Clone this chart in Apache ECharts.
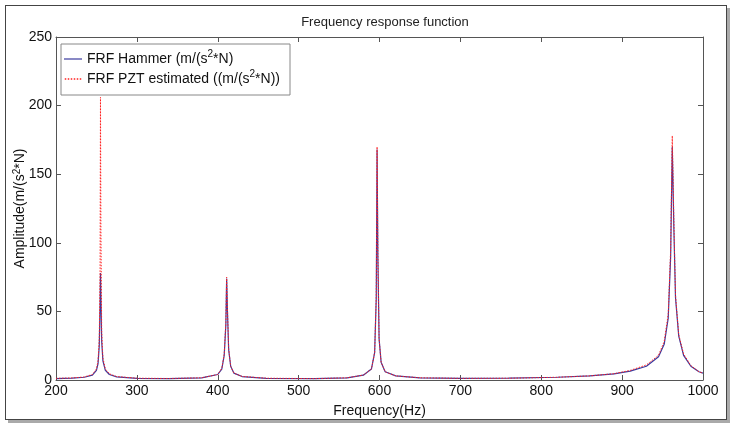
<!DOCTYPE html>
<html><head><meta charset="utf-8">
<script src="https://cdn.jsdelivr.net/npm/echarts@6/dist/echarts.min.js"></script>
<style>
html,body{margin:0;padding:0;background:#fff;}
#frame{position:absolute;left:5px;top:5px;width:720px;height:413px;border:1px solid #444;box-shadow:3px 3px 0 #aaa;background:#fff;}
#chart{position:absolute;left:0;top:0;width:733px;height:433px;}
</style></head>
<body>
<div id="frame"></div>
<div id="chart"></div>
<script>
// Frequency (Hz)
var freq = [200,220,235,245,250,252,253.5,254.5,255,255.5,256.5,258,261,266,275,300,340,380,400,405,408,410,411,412,413.5,416,420,430,460,520,560,580,590,594,596,597,598,599.5,602,607,620,650,700,760,820,860,890,910,930,945,952,957,960,962,964,966,970,976,985,995,1000];
// FRF Hammer amplitude
var hammer = [1.0,1.3,2.0,3.5,7,12,25,55,78,60,28,14,7,4,2.3,1.2,1.0,1.5,4,8,18,40,74,50,22,10,5,2.5,1.2,1.0,1.5,3.5,8,20,60,168,90,30,13,6,3,1.6,1.2,1.3,2,3,4.5,6.5,10,17,26,45,90,170,110,60,32,18,10,6,5];
// FRF PZT estimated amplitude
var pzt = [1.2,1.5,2.2,4,8,14,30,80,206,110,35,16,8,4.5,2.5,1.3,1.1,1.6,4,8.5,19,42,75,52,23,10,5,2.6,1.3,1.0,1.6,3.6,8,20,62,170,92,30,13,6,3,1.6,1.2,1.3,2,3,4.6,7,11,18,28,48,95,178,115,62,33,19,10.5,6,5];
var xTicks = [200,1000,100];
var yTicks = [0,250,50];
var names = ['FRF Hammer (m/(s²*N)','FRF PZT estimated ((m/(s²*N))'];

function pairs(xs, ys){ return xs.map(function(x,i){ return [x, ys[i]]; }); }
function sup(s){ return s.split('²').map(function(p){ return '{n|'+p+'}'; }).join('{s|2}'); }

var chart = echarts.init(document.getElementById('chart'), null, {renderer:'canvas'});
var font = 'Liberation Sans, Arial, sans-serif';
var rich14 = {n:{fontFamily:font,fontSize:14,color:'#111'},s:{fontFamily:font,fontSize:10,color:'#111',verticalAlign:'top',padding:[0,0,7,0]}};
var axisCommon = {
  axisLine:{show:true,onZero:false,lineStyle:{color:'#555',width:1}},
  axisTick:{show:true,inside:true,length:5,lineStyle:{color:'#555'}},
  splitLine:{show:false}
};
var solidIcon = 'path://M0,0L18,0L18,1.2L0,1.2Z';
var dotIcon = 'path://M0,0L1.5,0L1.5,1.5L0,1.5ZM3,0L4.5,0L4.5,1.5L3,1.5ZM6,0L7.5,0L7.5,1.5L6,1.5ZM9,0L10.5,0L10.5,1.5L9,1.5ZM12,0L13.5,0L13.5,1.5L12,1.5ZM15,0L16.5,0L16.5,1.5L15,1.5Z';
chart.setOption({
  animation:false,
  backgroundColor:'transparent',
  title:{text:'Frequency response function',left:380,top:11,textAlign:'center',
    textStyle:{fontFamily:font,fontSize:13,fontWeight:'normal',color:'#222'}},
  legend:{orient:'vertical',left:61,top:44,padding:[5,10,6,3],itemGap:0,
    borderColor:'#888',borderWidth:1,backgroundColor:'#fff',itemWidth:18,itemHeight:1.5,
    formatter:function(n){ return sup(n); },
    textStyle:{fontFamily:font,fontSize:14,color:'#111',lineHeight:20,rich:rich14},
    data:[{name:names[0],icon:solidIcon},{name:names[1],icon:dotIcon,itemStyle:{color:'#ff2020'}}]},
  grid:{left:56,right:30,top:37,bottom:53,outerBoundsMode:'none',containLabel:false},
  xAxis:[
    Object.assign({type:'value',min:xTicks[0],max:xTicks[1],interval:xTicks[2],position:'bottom',
      name:'Frequency(Hz)',nameLocation:'middle',nameGap:24,nameMoveOverlap:false,
      nameTextStyle:{fontFamily:font,fontSize:14,color:'#111'},
      axisLabel:{fontFamily:font,fontSize:14,color:'#111',margin:4,formatter:function(v){return String(v);}}},axisCommon),
    Object.assign({type:'value',min:xTicks[0],max:xTicks[1],interval:xTicks[2],position:'top',
      axisLabel:{show:false}},axisCommon)
  ],
  yAxis:[
    Object.assign({type:'value',min:yTicks[0],max:yTicks[1],interval:yTicks[2],position:'left',
      name:sup('Amplitude(m/(s²*N)'),nameLocation:'middle',nameGap:27,nameMoveOverlap:false,
      nameTextStyle:{fontFamily:font,fontSize:14,color:'#111',rich:rich14},
      axisLabel:{fontFamily:font,fontSize:14,color:'#111',margin:4,formatter:function(v){return String(v);}}},axisCommon),
    Object.assign({type:'value',min:yTicks[0],max:yTicks[1],interval:yTicks[2],position:'right',
      axisLabel:{show:false}},axisCommon)
  ],
  series:[
    {name:names[0],type:'line',data:pairs(freq,hammer),showSymbol:false,symbol:'none',
      lineStyle:{color:'#3a3a9e',width:1.2},itemStyle:{color:'#3a3a9e'}},
    {name:names[1],type:'line',data:pairs(freq,pzt),showSymbol:false,symbol:'none',
      lineStyle:{color:'#ff2020',width:1,type:[1.5,1.5]},itemStyle:{color:'#ff2020'}}
  ]
});
</script>
</body></html>
